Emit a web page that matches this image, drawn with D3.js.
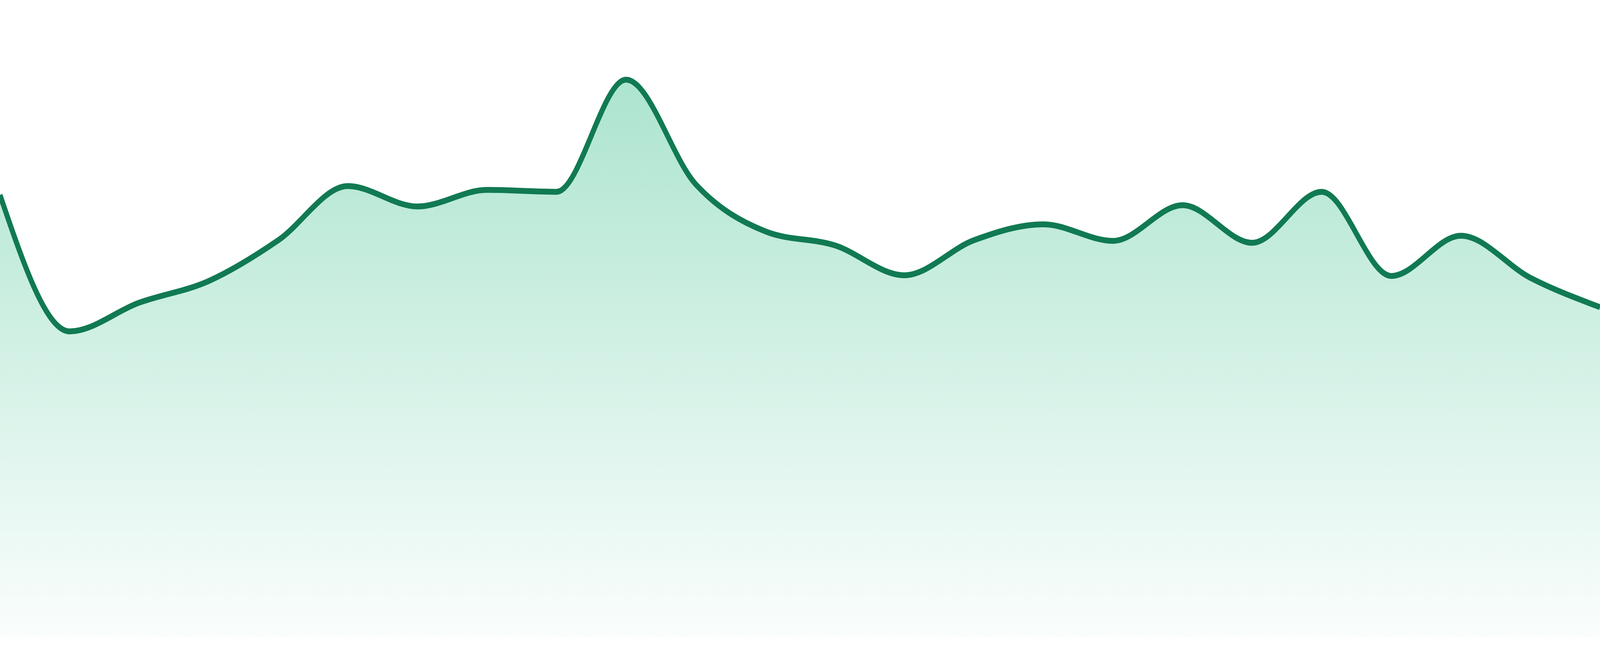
<!DOCTYPE html>
<html>
<head>
<meta charset="utf-8">
<script src="https://cdn.jsdelivr.net/npm/d3@7"></script>
<style>
  html, body { margin: 0; padding: 0; background: #fff; overflow: hidden; width: 100%; height: 100%; }
  svg { display: block; }
</style>
</head>
<body>
<svg id="chart"></svg>
<script>
"use strict";

// 24 evenly spaced samples, no axes shown
const categories = ['1', '2', '3', '4', '5', '6', '7', '8', '9', '10', '11', '12',
  '13', '14', '15', '16', '17', '18', '19', '20', '21', '22', '23', '24'];
const values = [69.4, 48.0, 52.5, 55.9, 62.3, 70.8, 67.6, 70.2, 69.9, 87.5, 71.1, 63.7,
  61.5, 56.8, 62.3, 64.8, 62.2, 67.8, 61.9, 69.9, 56.7, 63.0, 56.4, 51.8];
const yDomain = [0, 100];

// drawing frame; the svg is stretched to whatever the viewport really is
const W = 4800, H = 1680;
const baseline = 1632;

const svg = d3.select('#chart')
  .attr('width', window.innerWidth)
  .attr('height', window.innerHeight)
  .attr('viewBox', `0 0 ${W} ${H}`)
  .attr('preserveAspectRatio', 'none');

const x = d3.scalePoint().domain(categories).range([0, W]).padding(0);
const y = d3.scaleLinear().domain(yDomain).range([baseline, 0]);

const data = categories.map((c, i) => ({c, v: values[i]}));

// vertical fade for the area
const defs = svg.append('defs');
const grad = defs.append('linearGradient')
  .attr('id', 'area-fade')
  .attr('gradientUnits', 'userSpaceOnUse')
  .attr('x1', 0).attr('x2', 0)
  .attr('y1', y(d3.max(values))).attr('y2', baseline);
grad.append('stop').attr('offset', '0%').attr('stop-color', '#19b57a').attr('stop-opacity', 0.36);
grad.append('stop').attr('offset', '100%').attr('stop-color', '#19b57a').attr('stop-opacity', 0.02);

const area = d3.area()
  .x(d => x(d.c))
  .y0(y(0))
  .y1(d => y(d.v))
  .curve(d3.curveMonotoneX);

const line = d3.line()
  .x(d => x(d.c))
  .y(d => y(d.v))
  .curve(d3.curveMonotoneX);

svg.append('path')
  .datum(data)
  .attr('d', area)
  .attr('fill', 'url(#area-fade)');

svg.append('path')
  .datum(data)
  .attr('d', line)
  .attr('fill', 'none')
  .attr('stroke', '#117a52')
  .attr('stroke-width', 15)
  .attr('stroke-linejoin', 'round');
</script>
</body>
</html>
